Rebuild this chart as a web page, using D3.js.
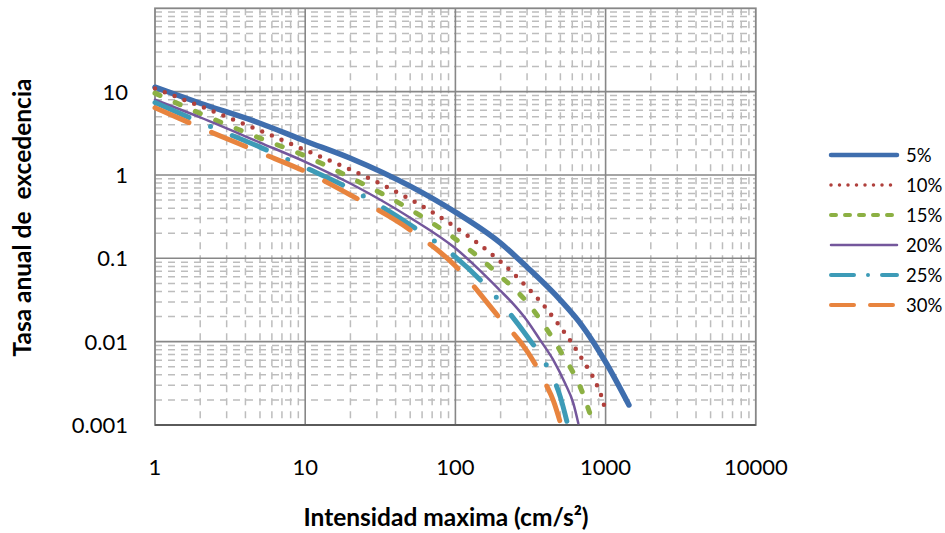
<!DOCTYPE html>
<html><head><meta charset="utf-8">
<script src="https://cdn.jsdelivr.net/npm/d3@7"></script>
<style>body{margin:0;background:#fff}svg{display:block}text{font-family:Lato,"Noto Sans",sans-serif}</style>
</head><body><svg id="c" width="945" height="533"></svg>
<script>
const seriesNames = ["5%","10%","15%","20%","25%","30%"];
const seriesColors = ["#3F6EAE","#B0403C","#8CB043","#74579C","#3D9BB7","#E8843E"];
const x5  = [1,2,5,10,20,50,100,200,300,500,700,1000,1430];
const y5  = [11.3,7.26,4.18,2.56,1.59,0.734,0.358,0.152,0.0783,0.0315,0.0154,0.0057,0.00174];
const x10 = [1,2,5,10,20,50,100,200,300,381,472,586,710,850,965,1006];
const y10 = [10.9,6.7,3.41,1.99,1.16,0.51,0.237,0.0908,0.045,0.0282,0.0172,0.0101,0.00585,0.00337,0.00187,0.00136];
const x15 = [1,2,5,10,20,50,100,200,300,500,700,800];
const y15 = [9.6,5.46,2.77,1.69,0.93,0.386,0.171,0.0608,0.0297,0.0077,0.00248,0.00125];
const x20 = [1,2,5,10,20,50,100,200,241,298,366,449,537,610,658];
const y20 = [8.0,4.9,2.45,1.44,0.79,0.307,0.132,0.0406,0.0288,0.0182,0.0105,0.006,0.00316,0.00182,0.00105];
const x25 = [1,2,5,10,20,50,100,200,300,400,500,560];
const y25 = [7.4,4.29,2.16,1.23,0.68,0.252,0.104,0.0297,0.0116,0.0054,0.00216,0.001];
const x30 = [1,2,5,10,20,50,100,200,300,400,450,505];
const y30 = [6.4,3.71,1.86,1.10,0.575,0.219,0.081,0.0186,0.0077,0.0031,0.00194,0.001];
const xTicks = [1,10,100,1000,10000];
const xTickLabels = ["1","10","100","1000","10000"];
const yTicks = [0.001,0.01,0.1,1,10];
const yTickLabels = ["0.001","0.01","0.1","1","10"];
const xTitle = "Intensidad maxima (cm/s²)";
const yTitle = "Tasa anual de  excedencia";

const xs = [x5,x10,x15,x20,x25,x30], ys = [y5,y10,y15,y20,y25,y30];
const widths = [5.5,4.5,5,2.5,5,5];
const dashes = [null,"0 10.5","5.5 16.6",null,"37 23.5 0 23.5","37 24.6"];
const legDash = [null,"0 8.5","5 9",null,"23 14 0 14","23 16"];
const legW = [4.5,3.5,4,2.5,4,4];

const svg = d3.select("#c");
const L=155,R=755.8,T=8.3,B=425;
const x = d3.scaleLog().domain([1,10000]).range([L,R]);
const y = d3.scaleLog().domain([0.001,100]).range([B,T]);

const g = svg.append("g");
const minorX=[],minorY=[];
for(let d=1; d<10000; d*=10) for(let k=2;k<=9;k++) minorX.push(d*k);
for(let e=-3; e<2; e++) for(let k=2;k<=9;k++) minorY.push(k*Math.pow(10,e));
g.selectAll(".mx").data(minorX).join("line").attr("x1",d=>x(d)).attr("x2",d=>x(d)).attr("y1",T).attr("y2",B)
 .attr("stroke","#bdbdbd").attr("stroke-width",1.5).attr("stroke-dasharray","7 6");
g.selectAll(".my").data(minorY).join("line").attr("y1",d=>y(d)).attr("y2",d=>y(d)).attr("x1",L).attr("x2",R)
 .attr("stroke","#bdbdbd").attr("stroke-width",1.5).attr("stroke-dasharray","7 6");
g.selectAll(".Mx").data([10,100,1000]).join("line").attr("x1",d=>x(d)).attr("x2",d=>x(d)).attr("y1",T).attr("y2",B)
 .attr("stroke","#878787").attr("stroke-width",1.6);
g.selectAll(".My").data([0.01,0.1,1,10]).join("line").attr("y1",d=>y(d)).attr("y2",d=>y(d)).attr("x1",L).attr("x2",R)
 .attr("stroke","#878787").attr("stroke-width",1.6);
g.append("rect").attr("x",L).attr("y",T).attr("width",R-L).attr("height",B-T).attr("fill","none")
 .attr("stroke","#878787").attr("stroke-width",1.8);
g.append("line").attr("x1",L).attr("x2",R).attr("y1",B).attr("y2",B).attr("stroke","#5a5a5a").attr("stroke-width",2);

svg.append("g").selectAll("text").data(xTicks).join("text")
 .attr("x",d=>x(d)).attr("y",475).attr("text-anchor","middle").attr("font-size",22).attr("fill","#000")
 .text((d,i)=>xTickLabels[i]);
svg.append("g").selectAll("text").data(yTicks).join("text")
 .attr("x",128).attr("y",d=>y(d)).attr("dy","0.36em").attr("text-anchor","end").attr("font-size",22).attr("fill","#000")
 .text((d,i)=>yTickLabels[i]);
svg.append("text").attr("x",446).attr("y",526).attr("text-anchor","middle").attr("font-size",24.5)
 .attr("font-weight","bold").text(xTitle);
svg.append("text").attr("transform","translate(31,217.5) rotate(-90)").attr("text-anchor","middle")
 .attr("font-size",24.5).attr("font-weight","bold").style("white-space","pre").text(yTitle);

const line = d3.line().x(d=>x(d[0])).y(d=>y(d[1])).curve(d3.curveMonotoneX);
const sg = svg.append("g");
seriesNames.forEach((n,i)=>{
  const pts = xs[i].map((v,j)=>[v,ys[i][j]]);
  const p = sg.append("path").attr("d",line(pts)).attr("fill","none").attr("stroke",seriesColors[i])
    .attr("stroke-width",widths[i]).attr("stroke-linecap","round").attr("stroke-linejoin","round");
  if(dashes[i]) p.attr("stroke-dasharray",dashes[i]);
});
const lg = svg.append("g");
seriesNames.forEach((n,i)=>{
  const yy = 155 + i*30;
  const l = lg.append("line").attr("x1",831).attr("x2",897).attr("y1",yy).attr("y2",yy)
    .attr("stroke",seriesColors[i]).attr("stroke-width",legW[i]).attr("stroke-linecap","round");
  if(legDash[i]) l.attr("stroke-dasharray",legDash[i]);
  lg.append("text").attr("x",906).attr("y",yy).attr("dy","0.36em").attr("font-size",18.5).text(n);
});
</script></body></html>
